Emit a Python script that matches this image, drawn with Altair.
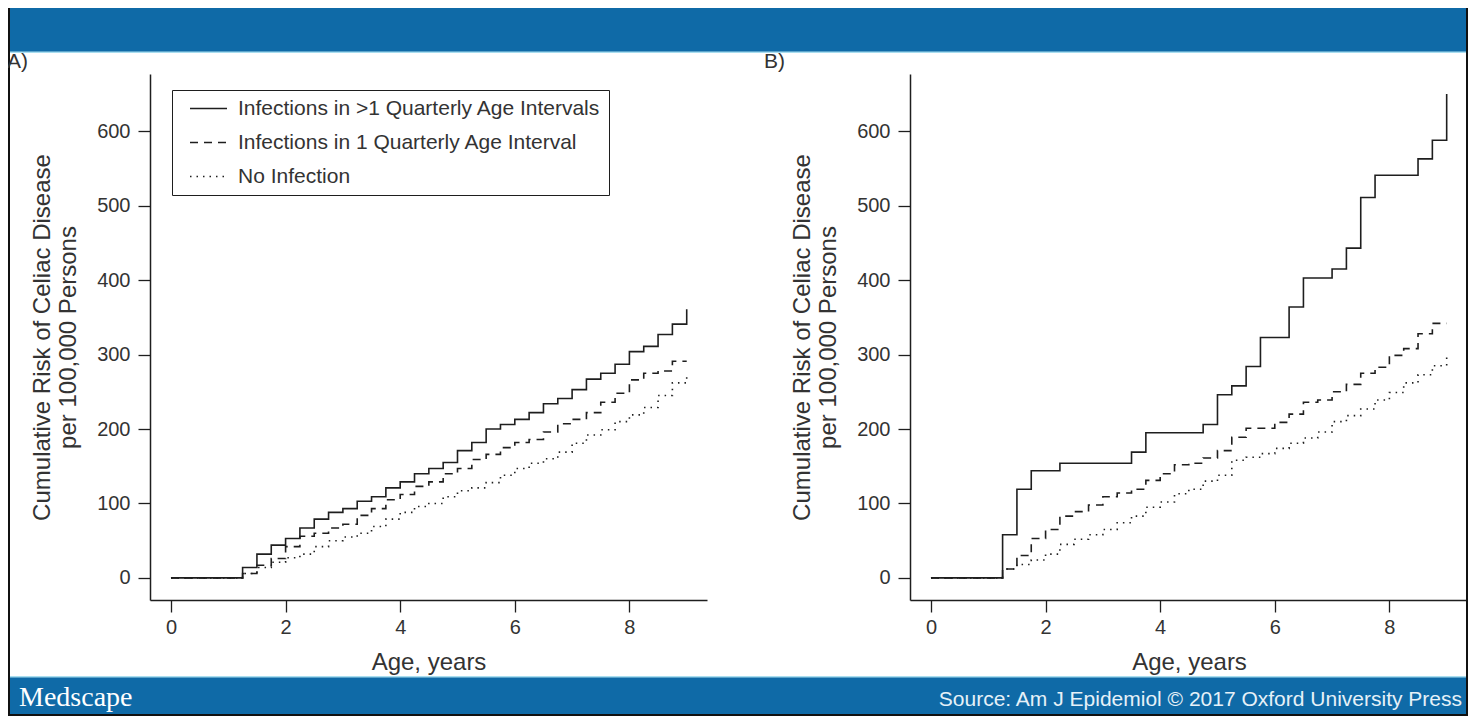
import altair as alt
import pandas as pd

# ---------------- data ----------------
AGES = [0, 1.25, 1.5, 1.75, 2.0, 2.25, 2.5, 2.75, 3.0, 3.25, 3.5, 3.75, 4.0, 4.25, 4.5, 4.75, 5.0,
        5.25, 5.5, 5.75, 6.0, 6.25, 6.5, 6.75, 7.0, 7.25, 7.5, 7.75, 8.0, 8.25, 8.5, 8.75, 9.0]

SERIES = ["Infections in >1 Quarterly Age Intervals",
          "Infections in 1 Quarterly Age Interval",
          "No Infection"]

# Panel A
A_MULTI = [0, 14, 32, 44, 53, 67, 79, 88, 93, 103, 109, 121, 129, 140, 147, 155, 171,
           182, 200, 206, 213, 222, 234, 241, 253, 267, 275, 287, 304, 311, 327, 341, 361]
A_ONE = [0, 6, 17, 26, 42, 56, 60, 67, 72, 84, 93, 105, 112, 123, 129, 140, 147,
         159, 166, 175, 182, 186, 196, 207, 213, 222, 236, 248, 266, 275, 278, 291, 291]
A_NONE = [0, 6, 14, 21, 27, 32, 42, 50, 55, 60, 69, 79, 88, 96, 100, 109, 117,
          121, 128, 138, 147, 154, 160, 169, 181, 192, 199, 210, 219, 229, 245, 262, 270]

# Panel B
B_MULTI = [0, 58, 119, 144, 144, 154, 154, 154, 154, 154, 169, 195, 195, 195, 195, 206, 246,
           258, 284, 323, 323, 364, 403, 403, 415, 443, 511, 541, 541, 541, 563, 588, 650]
B_ONE = [0, 12, 30, 53, 65, 83, 89, 98, 109, 114, 119, 131, 140, 152, 154, 161, 171,
         189, 201, 201, 209, 220, 236, 239, 250, 260, 275, 283, 299, 308, 328, 342, 342]
B_NONE = [0, 12, 18, 24, 32, 45, 52, 58, 65, 74, 83, 95, 102, 113, 119, 130, 138,
          158, 162, 167, 174, 181, 188, 196, 210, 218, 227, 239, 249, 262, 273, 285, 297]

X_TICKS = [0, 2, 4, 6, 8]
Y_TICKS = [0, 100, 200, 300, 400, 500, 600]
X_TITLE = "Age, years"
Y_TITLE = ["Cumulative Risk of Celiac Disease", "per 100,000 Persons"]
PANEL_LABELS = ["A)", "B)"]
BRAND = "Medscape"
SOURCE = "Source: Am J Epidemiol \u00a9 2017 Oxford University Press"

rows = []
for panel, series_vals in (("A", (A_MULTI, A_ONE, A_NONE)), ("B", (B_MULTI, B_ONE, B_NONE))):
    for name, vals in zip(SERIES, series_vals):
        for a, v in zip(AGES, vals):
            rows.append({"panel": panel, "series": name, "age": a, "risk": v})
df = pd.DataFrame(rows)

# ---------------- styling ----------------
W, H = 1460, 708
FONT = "Liberation Sans"
INK = "#1e1e1e"
TXT = "#333333"
BLUE = "#0f6aa7"
DASHES = [[1, 0], [8, 6], [1.5, 5]]

Y_DOMAIN = [-29.7, 677]
Y_RANGE = [592, 66]


def axis_common():
    return dict(grid=False, tickSize=12, tickWidth=1.3, tickColor=INK,
                domainWidth=1.5, domainColor=INK,
                labelFont=FONT, labelFontSize=20, labelColor=TXT,
                titleFont=FONT, titleFontSize=24, titleFontWeight="normal", titleColor=TXT)


def panel(name, x_domain, x_range, legend):
    x0 = x_range[0]
    xaxis = alt.Axis(orient="bottom", offset=-(H - Y_RANGE[0]), values=X_TICKS, format="d",
                     labelPadding=5, title=X_TITLE,
                     titleX=(x_range[0] + x_range[1]) / 2, titleY=69,
                     titleAlign="center", titleBaseline="alphabetic", **axis_common())
    yaxis = alt.Axis(orient="left", offset=-x0, values=Y_TICKS, labelPadding=8,
                     title=Y_TITLE, titleLineHeight=26, titlePadding=16, **axis_common())
    return alt.Chart(df).transform_filter(alt.datum.panel == name).mark_line(
        interpolate="step-after", color=INK, strokeWidth=1.6
    ).encode(
        x=alt.X("age:Q", scale=alt.Scale(domain=x_domain, range=x_range, nice=False, zero=False),
                axis=xaxis),
        y=alt.Y("risk:Q", scale=alt.Scale(domain=Y_DOMAIN, range=Y_RANGE, nice=False, zero=False),
                axis=yaxis),
        strokeDash=alt.StrokeDash("series:N",
                                  scale=alt.Scale(domain=SERIES, range=DASHES),
                                  sort=SERIES, legend=legend),
        detail="series:N",
    )


legend_a = alt.Legend(orient="none", legendX=164, legendY=82, title=None,
                      labelFont=FONT, labelFontSize=21, labelColor=TXT, labelLimit=800,
                      symbolType="stroke", symbolSize=1369, symbolStrokeWidth=1.5,
                      symbolStrokeColor=INK, strokeColor=INK, fillColor="white",
                      clipHeight=21, padding=8, rowPadding=12, labelOffset=10,
                      symbolOffset=9)

panel_a = panel("A", [-0.366, 9.354], [142, 699], legend_a)
panel_b = panel("B", [-0.366, 9.372], [902, 1460], None)

one = pd.DataFrame({"k": [0]})

header = alt.Chart(one).mark_rect(color=BLUE).encode(
    x=alt.value(0), x2=alt.value(W), y=alt.value(0), y2=alt.value(44))
header_line = alt.Chart(one).mark_rect(color="#a9def0").encode(
    x=alt.value(0), x2=alt.value(W), y=alt.value(43.5), y2=alt.value(45))
footer = alt.Chart(one).mark_rect(color=BLUE).encode(
    x=alt.value(0), x2=alt.value(W), y=alt.value(669), y2=alt.value(H))
footer_line = alt.Chart(one).mark_rect(color="#a9def0").encode(
    x=alt.value(0), x2=alt.value(W), y=alt.value(668), y2=alt.value(669.5))
frame = alt.Chart(one).mark_rect(fillOpacity=0, stroke="#111111", strokeWidth=2).encode(
    x=alt.value(1), x2=alt.value(W - 1), y=alt.value(-1), y2=alt.value(H - 1))

lab_df = pd.DataFrame({"t": PANEL_LABELS, "px": [-1, 756]})
labels = alt.Chart(lab_df).mark_text(font=FONT, fontSize=21, color=TXT, align="left",
                                     baseline="alphabetic").encode(
    text="t:N", x=alt.X("px:Q", scale=None), y=alt.value(60))

brand = alt.Chart(pd.DataFrame({"t": [BRAND]})).mark_text(
    font="Liberation Serif", fontSize=28, color="white", align="left", baseline="alphabetic"
).encode(text="t:N", x=alt.value(11), y=alt.value(698))

source = alt.Chart(pd.DataFrame({"t": [SOURCE]})).mark_text(
    font=FONT, fontSize=21, color="#e6f1f8", align="right", baseline="alphabetic"
).encode(text="t:N", x=alt.value(1454), y=alt.value(698))

chart = alt.layer(
    header, header_line, footer, footer_line, frame, panel_a, panel_b, labels, brand, source
).resolve_scale(
    x="independent", y="independent", strokeDash="independent"
).resolve_axis(x="independent", y="independent").properties(
    width=W, height=H, padding=0, autosize=alt.AutoSizeParams(type="none"),
    background="white"
).configure_view(stroke=None)

chart.save("out.html", embed_options={"renderer": "svg", "actions": False})
